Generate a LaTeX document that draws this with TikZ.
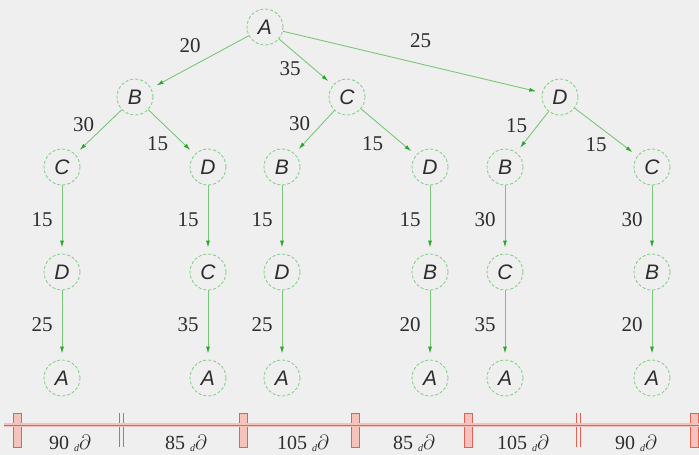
\documentclass[tikz,border=0pt]{standalone}
\usepackage{fontspec}
\setmainfont{Liberation Serif}
\newfontfamily\lettersf{Liberation Sans}
\usetikzlibrary{arrows.meta}

\definecolor{paper}{RGB}{239,239,239}
\definecolor{ringgreen}{RGB}{125,205,125}
\definecolor{edgegreen}{RGB}{120,200,120}
\definecolor{tipgreen}{RGB}{40,170,40}
\definecolor{inkgrey}{RGB}{45,45,45}
\definecolor{barred}{RGB}{228,95,85}
\definecolor{barpale}{RGB}{244,196,188}

\newcommand{\unitmark}{{\fontsize{10}{10}\selectfont\raisebox{-2.5pt}{\itshape d}}$\partial$}

\begin{document}
\begin{tikzpicture}[x=1pt, y=-1pt,
      city/.style={circle, draw=ringgreen, densely dashed, line width=0.8pt,
        minimum size=36pt, inner sep=0pt, text=inkgrey,
        font=\lettersf\itshape\fontsize{21}{21}\selectfont},
      hop/.style={draw=edgegreen, line width=0.9pt, shorten >=6pt,
        -{Latex[length=7pt,width=4pt,color=tipgreen]}},
      cost/.style={inner sep=1pt, text=inkgrey, font=\fontsize{21}{21}\selectfont},
      fare/.style={anchor=base, inner sep=0pt, text=inkgrey, font=\fontsize{20}{20}\selectfont}
      ]
      \fill[paper] (0,0) rectangle (699,455);
      \useasboundingbox (0,0) rectangle (699,455);

      % start city and first two stops
      \node[city] (A) at (265,27) {A};
      \node[city] (AB) at (135,97) {B};
      \node[city] (AC) at (347,97) {C};
      \node[city] (AD) at (560,97) {D};
      \node[city] (ABC) at (62,167) {C};
      \node[city] (ABD) at (208,167) {D};
      \node[city] (ACB) at (282,167) {B};
      \node[city] (ACD) at (430,167) {D};
      \node[city] (ADB) at (505,167) {B};
      \node[city] (ADC) at (652,167) {C};

      \draw[hop] (A) -- node[cost, shift={(-10,-16)}] {20} (AB);
      \draw[hop] (A) -- node[cost, shift={(-16,7)}] {35} (AC);
      \draw[hop] (A) -- node[cost, shift={(8,-21)}] {25} (AD);
      \draw[hop] (AB) -- node[cost, shift={(-15,-7)}] {30} (ABC);
      \draw[hop] (AB) -- node[cost, shift={(-14,12)}] {15} (ABD);
      \draw[hop] (AC) -- node[cost, shift={(-15,-8)}] {30} (ACB);
      \draw[hop] (AC) -- node[cost, shift={(-16,12)}] {15} (ACD);
      \draw[hop] (AD) -- node[cost, shift={(-16,-6)}] {15} (ADB);
      \draw[hop] (AD) -- node[cost, shift={(-10,13)}] {15} (ADC);

      % last stop and way back home
      \foreach \trail/\stop/\x/\costa/\costb in {ABC/D/62/15/25, ABD/C/208/15/35,
          ACB/D/282/15/25, ACD/B/430/15/20, ADB/C/505/30/35, ADC/B/652/30/20} {
        \node[city] (\trail\stop) at (\x,272) {\stop};
        \node[city] (\trail\stop A) at (\x,378) {A};
        \draw[hop] (\trail) -- node[cost, left=8pt] {\costa} (\trail\stop);
        \draw[hop] (\trail\stop) -- node[cost, left=8pt] {\costb} (\trail\stop A);
      }

      % tour lengths
      \foreach \x in {17,243,355,468,694}
        \draw[barred, fill=barpale, line width=0.5pt] (\x-4,413) rectangle (\x+4,447);
      \foreach \x in {121,578}
        \draw[barred, line width=0.6pt] (\x-2,413) -- (\x-2,447) (\x+2,413) -- (\x+2,447);
      \draw[barpale, line width=3.5pt] (4,425) -- (699,425);
      \draw[barred, line width=0.7pt] (4,425) -- (699,425);
      \foreach \x/\len in {70/90, 186/85, 303/105, 414/85, 523/105, 636/90}
        \node[fare] (fare\x) at (\x,449) {\len~\unitmark};
    \end{tikzpicture}
\end{document}
